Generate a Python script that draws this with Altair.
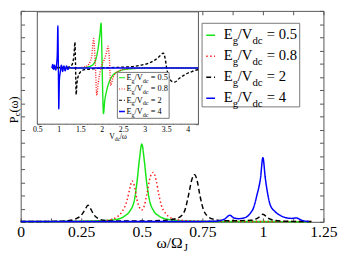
import altair as alt
import pandas as pd

SERIES = ["0.5", "0.8", "2", "4"]
COLORS = ["#16e616", "#ff1a1a", "#000000", "#0000ff"]
MAIN_DASH = [[1, 0], [1.5, 2.5], [5, 3], [1, 0]]
INSET_DASH = [[1, 0], [1, 1.5], [3, 2], [1, 0]]

# ---------------- main panel  (omega / Omega_J , P_c) ----------------
main_x_05 = [0, 0.2, 0.3, 0.35, 0.4, 0.43, 0.45, 0.47, 0.48, 0.49, 0.5, 0.51, 0.52, 0.53, 0.55, 0.57, 0.6, 0.65, 0.7, 0.8, 1.0, 1.2]
main_y_05 = [0.002, 0.004, 0.007, 0.01, 0.02, 0.045, 0.08, 0.17, 0.3, 0.47, 0.59, 0.47, 0.3, 0.18, 0.08, 0.045, 0.022, 0.01, 0.006, 0.003, 0.002, 0.001]

main_x_08 = [0, 0.3, 0.36, 0.38, 0.4, 0.42, 0.44, 0.45, 0.46, 0.47, 0.48, 0.49, 0.5, 0.51, 0.52, 0.535, 0.547, 0.56, 0.57, 0.58, 0.6, 0.62, 0.65, 0.7, 0.8, 1.0, 1.2]
main_y_08 = [0.002, 0.005, 0.012, 0.02, 0.04, 0.08, 0.17, 0.25, 0.31, 0.27, 0.17, 0.11, 0.09, 0.12, 0.2, 0.34, 0.375, 0.31, 0.21, 0.13, 0.06, 0.03, 0.015, 0.008, 0.004, 0.003, 0.002]

main_x_2 = [0, 0.15, 0.2, 0.23, 0.25, 0.265, 0.278, 0.29, 0.3, 0.32, 0.35, 0.4, 0.5, 0.6, 0.65, 0.675, 0.695, 0.705, 0.718, 0.73, 0.74, 0.755, 0.77, 0.8, 0.85, 0.95, 0.98, 1.0, 1.02, 1.05, 1.1, 1.2]
main_y_2 = [0.002, 0.004, 0.01, 0.025, 0.05, 0.09, 0.126, 0.095, 0.06, 0.025, 0.01, 0.006, 0.006, 0.012, 0.03, 0.075, 0.22, 0.31, 0.358, 0.3, 0.2, 0.09, 0.045, 0.018, 0.008, 0.012, 0.03, 0.058, 0.03, 0.01, 0.004, 0.002]

main_x_4 = [0, 0.5, 0.8, 0.82, 0.845, 0.863, 0.88, 0.9, 0.93, 0.95, 0.96, 0.975, 0.99, 1.0, 1.01, 1.02, 1.03, 1.05, 1.07, 1.09, 1.12, 1.138, 1.155, 1.17, 1.19]
main_y_4 = [0.002, 0.002, 0.004, 0.008, 0.025, 0.05, 0.03, 0.024, 0.035, 0.07, 0.1, 0.2, 0.33, 0.487, 0.33, 0.21, 0.13, 0.078, 0.05, 0.034, 0.026, 0.03, 0.016, 0.007, 0.002]

# ---------------- inset  (V_dc / omega) ----------------
inset_x_05 = [0.85, 1.5, 1.6, 1.7, 1.75, 1.8, 1.87, 1.92, 1.96, 1.985, 2.0, 2.02, 2.04, 2.07, 2.1, 2.15, 2.2, 2.25, 2.3, 2.4, 2.5, 2.7, 3.0, 4.25]
inset_y_05 = [0, 0, 0.03, 0.08, 0.15, 0.25, 0.7, 1.5, 2.5, 3.2, 1.5, -1.5, -3.25, -2.3, -1.8, -1.2, -0.8, -0.55, -0.4, -0.22, -0.12, -0.05, 0, 0]

inset_x_08 = [0.85, 1.4, 1.5, 1.6, 1.68, 1.73, 1.77, 1.81, 1.85, 1.885, 1.92, 1.96, 2.0, 2.06, 2.11, 2.15, 2.18, 2.21, 2.25, 2.3, 2.4, 2.5, 2.7, 3.0, 4.25]
inset_y_08 = [0, 0, 0.03, 0.08, 0.2, 0.45, 0.9, 2.1, 0.3, -1.95, -1.0, -0.3, 0.2, 0.6, 1.1, 1.55, 0.5, -1.25, -0.8, -0.45, -0.2, -0.1, -0.03, 0, 0]

inset_x_2 = [0.85, 1.0, 1.2, 1.3, 1.34, 1.36, 1.375, 1.39, 1.405, 1.42, 1.45, 1.5, 1.6, 1.8, 2.0, 2.4, 2.7, 2.9, 3.1, 3.25, 3.35, 3.43, 3.48, 3.51, 3.56, 3.63, 3.7, 3.8, 3.95, 4.1, 4.25]
inset_y_2 = [0, 0.05, 0.05, 0.2, 0.6, 1.2, 1.85, 0.2, -1.9, -1.2, -0.6, -0.3, -0.12, -0.05, 0, 0.05, 0.1, 0.2, 0.35, 0.6, 0.85, 1.06, 0.6, 0.0, -0.6, -0.95, -1.0, -0.75, -0.45, -0.25, -0.1]

inset_x_4 = [0.84, 0.86, 0.88, 0.9, 0.93, 0.95, 0.965, 0.978, 0.99, 1.0, 1.015, 1.035, 1.06, 1.09, 1.12, 1.15, 1.18, 1.21, 1.25, 1.3, 4.25]
inset_y_4 = [0, 0.25, -0.1, 0.2, -0.15, 0.3, 1.0, 3.0, 0.2, -2.9, -0.8, -0.3, 0.2, -0.25, 0.15, -0.2, 0.15, -0.1, 0.05, 0, 0]

MAIN_TICKS = [0, 0.25, 0.5, 0.75, 1, 1.25]
INSET_TICKS = [0.5, 1, 1.5, 2, 2.5, 3, 3.5, 4]

W, H = 310, 216
AX = "#555555"
FONT = "Liberation Serif, Times New Roman, serif"


def long(xs_list, ys_list):
    frames = []
    for s, xs, ys in zip(SERIES, xs_list, ys_list):
        frames.append(pd.DataFrame({"x": xs, "y": ys, "series": s}))
    return pd.concat(frames, ignore_index=True)


df_main = long([main_x_05, main_x_08, main_x_2, main_x_4], [main_y_05, main_y_08, main_y_2, main_y_4])
df_inset = long([inset_x_05, inset_x_08, inset_x_2, inset_x_4], [inset_y_05, inset_y_08, inset_y_2, inset_y_4])
dummy = pd.DataFrame({"x": [1.0], "y": [0.5]})

mx = alt.Scale(domain=[0, 1.25], nice=False, zero=False)
my = alt.Scale(domain=[0, 1.6], nice=False, zero=False)
ix = alt.Scale(domain=[0.5, 4.25], range=[17, 182], nice=False, zero=False)
iy = alt.Scale(domain=[-4, 4], range=[116, 1], nice=False, zero=False)


def tick_axis(orient, offset, values, size):
    return alt.Axis(orient=orient, offset=offset, values=values, labels=False, domain=False,
                    ticks=True, tickSize=size, tickColor=AX, tickWidth=1, grid=False, title=None)


def tick_layer(xs, ys, xaxis, yaxis):
    return alt.Chart(dummy).mark_point(opacity=0).encode(
        x=alt.X("x:Q", scale=xs, axis=xaxis), y=alt.Y("y:Q", scale=ys, axis=yaxis))


main_xt = [i * 0.125 for i in range(11)]
main_yt = [i * 0.1 for i in range(17)]
inset_xt = [0.5 + i / 6 for i in range(23)]
inset_yt = list(range(-4, 5))

main_lines = alt.Chart(df_main).mark_line(interpolate="monotone", strokeWidth=1.5).encode(
    x=alt.X("x:Q", scale=mx, axis=alt.Axis(orient="bottom", values=MAIN_TICKS, labelExpr="'' + datum.value",
                                           labelFont=FONT, labelFontSize=16, labelColor="black",
                                           labelPadding=2, ticks=False, tickSize=0, domain=False,
                                           grid=False, title=None, labelFlush=False,
                                           labelOverlap=False, labelBound=False)),
    y=alt.Y("y:Q", scale=my, axis=None),
    color=alt.Color("series:N", scale=alt.Scale(domain=SERIES, range=COLORS), legend=None),
    strokeDash=alt.StrokeDash("series:N", scale=alt.Scale(domain=SERIES, range=MAIN_DASH), legend=None),
)

main_ticks_a = tick_layer(mx, my, tick_axis("top", -H, main_xt, 4), tick_axis("right", -W, main_yt, 4))
main_ticks_b = tick_layer(mx, my, tick_axis("bottom", -H, main_xt, 4), tick_axis("left", -W, main_yt, 4))

inset_bg = alt.Chart(pd.DataFrame({"x0": [0.5], "x1": [4.25], "y0": [-4], "y1": [4]})).mark_rect(
    fill="white", stroke=AX, strokeWidth=1).encode(
    x=alt.X("x0:Q", scale=ix, axis=None), x2="x1",
    y=alt.Y("y0:Q", scale=iy, axis=None), y2="y1")

inset_lines = alt.Chart(df_inset).mark_line(interpolate="monotone", strokeWidth=1.4).encode(
    x=alt.X("x:Q", scale=ix, axis=alt.Axis(orient="bottom", offset=-(H - 116), values=INSET_TICKS,
                                           labelExpr="'' + datum.value", labelFont=FONT, labelFontSize=8,
                                           labelColor="black", labelPadding=1, ticks=False,
                                           tickSize=0, domain=False, grid=False, title=None,
                                           labelFlush=False, labelOverlap=False, labelBound=False)),
    y=alt.Y("y:Q", scale=iy, axis=None),
    color=alt.Color("series:N", scale=alt.Scale(domain=SERIES, range=COLORS), legend=None),
    strokeDash=alt.StrokeDash("series:N", scale=alt.Scale(domain=SERIES, range=INSET_DASH), legend=None),
    strokeWidth=alt.StrokeWidth("series:N", scale=alt.Scale(domain=SERIES, range=[1.3, 1.3, 1.2, 2]), legend=None),
)

inset_ticks_a = tick_layer(ix, iy, tick_axis("top", -116, inset_xt, 3), tick_axis("right", -(W - 17), inset_yt, 3))
inset_ticks_b = tick_layer(ix, iy, tick_axis("bottom", -(H - 1), inset_xt, 3), tick_axis("left", -182, inset_yt, 3))


def legend_layers(box, x_line, x0, baselines, f, s, dy, dashes, lw, line_dy):
    out = [alt.Chart(dummy).mark_rect(fill="white", stroke="#777777", strokeWidth=1).encode(
        x=alt.value(box[0]), x2=alt.value(box[2]), y=alt.value(box[1]), y2=alt.value(box[3]))]
    rows = []
    k = f / 15.0
    for i, (val, b) in enumerate(zip(SERIES, baselines)):
        out.append(alt.Chart(dummy).mark_rule(color=COLORS[i], strokeDash=dashes[i], strokeWidth=lw[i]).encode(
            x=alt.value(x_line[0]), x2=alt.value(x_line[1]), y=alt.value(b - line_dy)))
        rows += [
            {"x": x0, "y": b, "t": "E", "s": f},
            {"x": x0 + 9.2 * k, "y": b + dy, "t": "g", "s": s},
            {"x": x0 + 14.3 * k, "y": b, "t": "/V", "s": f},
            {"x": x0 + 29.3 * k, "y": b + dy, "t": "dc", "s": s},
            {"x": x0 + 44 * k, "y": b, "t": "= " + val, "s": f},
        ]
    return out, rows


ox, oy = 21, 8  # plot origin in page pixels
main_leg, main_rows = legend_layers((206.7 - ox, 20.7 - oy, 306.7 - ox, 106.3 - oy), (211 - ox, 220 - ox),
                                    229 - ox, [37 - oy, 58.5 - oy, 80 - oy, 101.5 - oy], 15, 11, 5,
                                    MAIN_DASH, [1.5, 1.5, 1.5, 1.5], 4)
inset_leg, inset_rows = legend_layers((120 - ox, 71 - oy, 173 - ox, 118 - oy), (121.7 - ox, 127.7 - ox),
                                      129.3 - ox, [79 - oy, 90.5 - oy, 102 - oy, 113.5 - oy], 8.5, 6.2, 2.8,
                                      INSET_DASH, [1.2, 1.2, 1.2, 1.6], 2.5)

title_rows = [
    {"x": 160 - ox, "y": 250.7 - oy, "t": "ω/Ω", "s": 16},
    {"x": 188 - ox, "y": 254 - oy, "t": "J", "s": 11},
    {"x": 111.7 - ox, "y": 139.5 - oy, "t": "V", "s": 8},
    {"x": 117.4 - ox, "y": 141.5 - oy, "t": "dc", "s": 6},
    {"x": 122.3 - ox, "y": 139.5 - oy, "t": "/ω", "s": 8},
]


def text_layer(rows, angle=0):
    return alt.Chart(pd.DataFrame(rows)).mark_text(
        align="left", baseline="alphabetic", font=FONT, color="black", angle=angle).encode(
        x=alt.X("x:Q", scale=None, axis=None), y=alt.Y("y:Q", scale=None, axis=None),
        text="t:N", size=alt.Size("s:Q", scale=None, legend=None))


ytitle_rows = [
    {"x": 18 - ox, "y": 123 - oy, "t": "P", "s": 12.5},
    {"x": 20.3 - ox, "y": 116 - oy, "t": "c", "s": 9},
    {"x": 18 - ox, "y": 112 - oy, "t": "(ω)", "s": 12.5},
]

layers = ([main_lines, main_ticks_a, main_ticks_b, inset_bg, inset_lines, inset_ticks_a, inset_ticks_b]
          + inset_leg + [text_layer(inset_rows)] + main_leg + [text_layer(main_rows),
                                                               text_layer(title_rows),
                                                               text_layer(ytitle_rows, angle=270)])

chart = alt.layer(*layers).resolve_scale(
    x="independent", y="independent", color="independent", strokeDash="independent",
    strokeWidth="independent", size="independent").properties(
    width=W, height=H,
    autosize=alt.AutoSizeParams(type="none"),
    padding={"left": 13, "top": 0, "right": 19, "bottom": 31},
).configure_view(stroke=AX, strokeWidth=1)

chart.save("out.html", embed_options={"renderer": "svg", "actions": False})
